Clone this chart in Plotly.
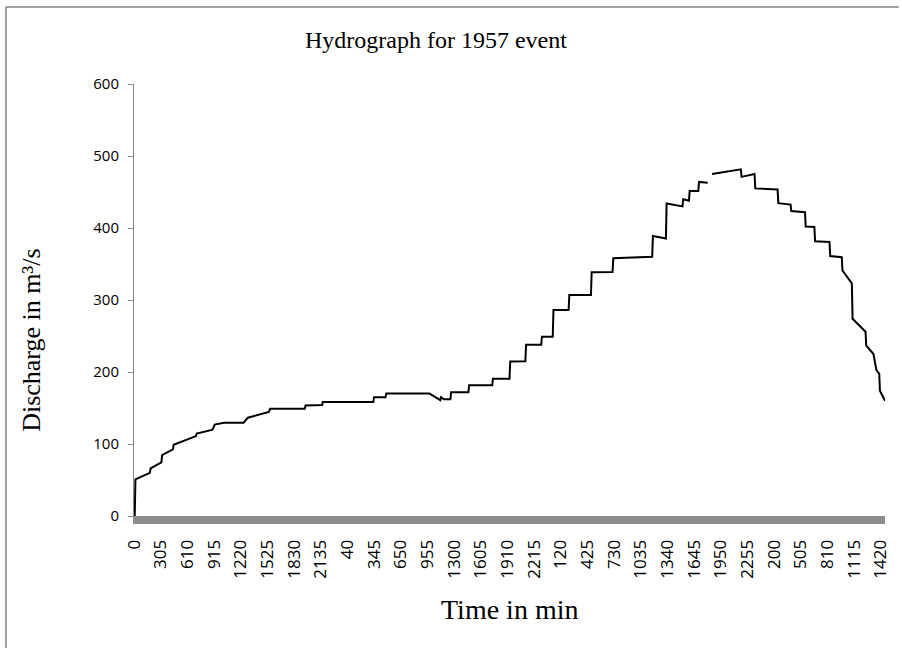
import plotly.graph_objects as go

# Time elapsed since start of event (minutes) and discharge (m3/s)
time_min = [0, 5, 10, 110, 115, 190, 195, 270, 275, 430, 435, 545, 560, 625, 760, 790,
            935, 945, 1185, 1190, 1305, 1310, 1660, 1665, 1745, 1750, 2050, 2125, 2130,
            2150, 2195, 2200, 2320, 2325, 2485, 2490, 2605, 2610, 2715, 2720, 2825, 2830,
            2905, 2910, 3015, 3020, 3170, 3175, 3320, 3325, 3595, 3600, 3690, 3695, 3805,
            3810, 3850, 3855, 3915, 3920, 3980, 3985, 4010, 4210, 4215, 4305, 4310, 4465,
            4470, 4555, 4560, 4655, 4660, 4720, 4725, 4825, 4830, 4910, 4915, 4980, 4985,
            5075, 5080, 5130, 5150, 5170, 5175, 5210]
discharge = [0, 0, 51, 60, 66, 74.5, 84.5, 92.5, 99, 111, 114.5, 120, 127, 129.5, 129.5, 136.5,
             144.5, 149, 149, 153.5, 154, 158.5, 158.5, 165, 165, 170, 170, 161, 165,
             162, 162, 172, 172, 181.5, 181.5, 190.5, 190.5, 214.5, 215, 238, 238, 249,
             249, 286, 286, 307, 307, 338.5, 339, 358, 360, 389, 385.5, 434, 430,
             440, 438, 451.5, 451.5, 464, 463, None, 475, 481.5, 471, 475, 455, 453.5,
             434.5, 432.5, 423.5, 422, 402, 401.5, 381.5, 380.5, 361, 359.5, 341, 323, 274,
             256, 236.5, 225, 203, 197.5, 174, 160]

# Category tick labels (clock time HHMM) and their elapsed-minute positions
tick_minutes = [0, 185, 370, 555, 740, 925, 1110, 1295, 1480, 1665, 1850, 2035, 2220, 2405,
                2590, 2775, 2960, 3145, 3330, 3515, 3700, 3885, 4070, 4255, 4440, 4625,
                4810, 4995, 5180]
tick_labels = ["0", "305", "610", "915", "1220", "1525", "1830", "2135", "40", "345", "650",
               "955", "1300", "1605", "1910", "2215", "120", "425", "730", "1035", "1340",
               "1645", "1950", "2255", "200", "505", "810", "1115", "1420"]

fig = go.Figure()
fig.add_trace(go.Scatter(
    x=time_min, y=discharge, mode="lines",
    line=dict(color="black", width=2),
    connectgaps=False, showlegend=False, hoverinfo="x+y",
))

serif = "Liberation Serif, Times New Roman, serif"
sans = "Open Sans, Noto Sans, sans-serif"

fig.update_layout(
    width=902, height=648, autosize=False,
    margin=dict(l=134, r=11, t=84, b=132),
    paper_bgcolor="white", plot_bgcolor="white",
    xaxis=dict(
        range=[0, 5210], tickmode="array", tickvals=tick_minutes, ticktext=tick_labels,
        tickangle=-90, showline=True, linewidth=8, linecolor="#8c8c8c",
        showgrid=False, zeroline=False, ticks="",
        tickfont=dict(family=sans, size=17, color="#000000"),
        ticklabelstandoff=9,
    ),
    yaxis=dict(
        range=[0, 600], dtick=100, showline=True, linewidth=1, linecolor="#868686",
        ticks="outside", ticklen=5, tickcolor="#868686", showgrid=False, zeroline=False,
        tickfont=dict(family=sans, size=15, color="#000000"),
        ticklabelstandoff=6,
    ),
    annotations=[
        dict(text="Hydrograph for 1957 event", xref="paper", yref="paper",
             x=(438 - 134) / 757, y=(516 - 40) / 432, showarrow=False,
             font=dict(family=serif, size=24, color="black"), xanchor="center", yanchor="middle"),
        dict(text="Discharge in m³/s", xref="paper", yref="paper",
             x=(30 - 134) / 757, y=(516 - 340) / 432, textangle=-90, showarrow=False,
             font=dict(family=serif, size=26, color="black"), xanchor="center", yanchor="middle"),
        dict(text="Time in min", xref="paper", yref="paper",
             x=0.5, y=(516 - 609) / 432, showarrow=False,
             font=dict(family=serif, size=28, color="black"), xanchor="center", yanchor="middle"),
    ],
    shapes=[
        dict(type="line", xref="paper", yref="paper",
             x0=(5 - 134) / 757, x1=(905 - 134) / 757, y0=(516 - 7) / 432, y1=(516 - 7) / 432,
             line=dict(color="#808080", width=1.5)),
        dict(type="line", xref="paper", yref="paper",
             x0=(5 - 134) / 757, x1=(5 - 134) / 757, y0=(516 - 7) / 432, y1=(516 - 652) / 432,
             line=dict(color="#808080", width=1.5)),
    ],
)

fig.write_html("out.html", config={"displayModeBar": False},
               post_script="document.body.style.margin='0px';document.body.style.overflow='hidden';")
